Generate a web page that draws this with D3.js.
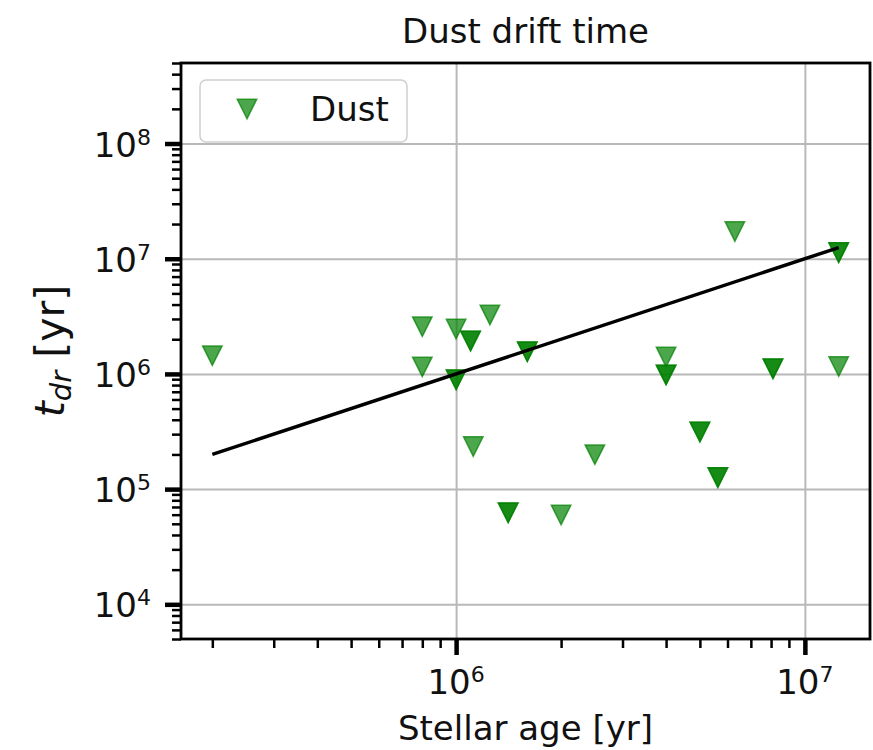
<!DOCTYPE html>
<html>
<head>
<meta charset="utf-8">
<script src="https://cdn.jsdelivr.net/npm/d3@7"></script>
<style>
  body { margin: 0; background: #fff; }
  svg { display: block; }
  text { font-family: "DejaVu Sans", sans-serif; fill: #111; }
</style>
</head>
<body>
<svg id="chart" width="873" height="750"></svg>
<script>
// Stellar age [yr] and dust drift time [yr] for each disc (repeated entries overlap)
const stellarAge = [2.0e5, 8.0e5, 8.0e5, 1.0e6, 1.1e6, 1.1e6, 1.0e6, 1.0e6, 1.12e6, 1.25e6,
                    1.41e6, 1.41e6, 1.6e6, 1.6e6, 2.0e6, 2.5e6, 4.0e6, 4.0e6, 4.0e6, 5.0e6,
                    5.0e6, 5.63e6, 5.63e6, 6.3e6, 8.1e6, 8.1e6, 1.25e7, 1.25e7, 1.25e7];
const driftTime  = [1.44e6, 2.57e6, 1.15e6, 2.45e6, 1.93e6, 1.93e6, 8.9e5, 8.9e5, 2.34e5, 3.25e6,
                    6.24e4, 6.24e4, 1.56e6, 1.56e6, 5.96e4, 1.99e5, 1.40e6, 9.8e5, 9.8e5, 3.13e5,
                    3.13e5, 1.26e5, 1.26e5, 1.72e7, 1.11e6, 1.11e6, 1.13e7, 1.13e7, 1.16e6];

// One-to-one reference line t_dr = age
const fitAge  = [2.0e5, 1.25e7];
const fitTime = [2.0e5, 1.25e7];

const yLimits     = [5e3, 5e8];
const xMajorTicks = [1e6, 1e7];
const yMajorTicks = [1e4, 1e5, 1e6, 1e7, 1e8];
const chartTitle  = "Dust drift time";
const xLabel      = "Stellar age [yr]";
const legendLabel = "Dust";

const svg = d3.select("#chart");
const plot = { left: 181, right: 870, top: 63, bottom: 639 };

// Log x range with a 5% margin (in log space) around the data
const lo = Math.log10(d3.min(stellarAge)), hi = Math.log10(d3.max(stellarAge));
const pad = 0.05 * (hi - lo);
const x = d3.scaleLog().domain([10 ** (lo - pad), 10 ** (hi + pad)]).range([plot.left, plot.right]);
const y = d3.scaleLog().domain(yLimits).range([plot.bottom, plot.top]);

function minorTicks(scale) {
  const [a, b] = scale.domain();
  const out = [];
  for (let d = Math.floor(Math.log10(a)); d <= Math.ceil(Math.log10(b)); d++) {
    for (let k = 2; k <= 9; k++) {
      const v = k * 10 ** d;
      if (v >= a * 0.9999 && v <= b * 1.0001) out.push(v);
    }
  }
  return out;
}

// Grid lines at major ticks
const gridX = svg.append("g").attr("transform", `translate(0,${plot.bottom})`)
  .call(d3.axisBottom(x).tickValues(xMajorTicks).tickSize(-(plot.bottom - plot.top)).tickFormat(""));
const gridY = svg.append("g").attr("transform", `translate(${plot.left},0)`)
  .call(d3.axisLeft(y).tickValues(yMajorTicks).tickSize(-(plot.right - plot.left)).tickFormat(""));
[gridX, gridY].forEach(g => {
  g.select(".domain").remove();
  g.selectAll("line").attr("stroke", "#b8b8b8").attr("stroke-width", 2);
});

// Markers: downward triangles
const ms = 19.5;
const tri = (() => {
  const p = d3.path();
  p.moveTo(0, ms / 2); p.lineTo(-ms / 2, -ms / 2); p.lineTo(ms / 2, -ms / 2); p.closePath();
  return p.toString();
})();

svg.append("g").selectAll("path")
  .data(d3.zip(stellarAge, driftTime))
  .join("path")
  .attr("d", tri)
  .attr("transform", d => `translate(${x(d[0])},${y(d[1])})`)
  .attr("fill", "green").attr("fill-opacity", 0.7)
  .attr("stroke", "green").attr("stroke-opacity", 0.7).attr("stroke-width", 1.5);

// Reference line
svg.append("path")
  .datum(d3.zip(fitAge, fitTime))
  .attr("d", d3.line().x(d => x(d[0])).y(d => y(d[1])))
  .attr("fill", "none").attr("stroke", "#000").attr("stroke-width", 3.5);

// Spines
svg.append("rect")
  .attr("x", plot.left).attr("y", plot.top)
  .attr("width", plot.right - plot.left).attr("height", plot.bottom - plot.top)
  .attr("fill", "none").attr("stroke", "#000").attr("stroke-width", 2.8);

// Tick marks
function styleTicks(g, w) {
  g.select(".domain").remove();
  g.selectAll("line").attr("stroke", "#000").attr("stroke-width", w);
  g.selectAll("text").remove();
}
styleTicks(svg.append("g").attr("transform", `translate(0,${plot.bottom})`)
  .call(d3.axisBottom(x).tickValues(minorTicks(x)).tickSize(9)), 2.5);
styleTicks(svg.append("g").attr("transform", `translate(0,${plot.bottom})`)
  .call(d3.axisBottom(x).tickValues(xMajorTicks).tickSize(16)), 4.5);
styleTicks(svg.append("g").attr("transform", `translate(${plot.left},0)`)
  .call(d3.axisLeft(y).tickValues(minorTicks(y)).tickSize(9)), 2.5);
styleTicks(svg.append("g").attr("transform", `translate(${plot.left},0)`)
  .call(d3.axisLeft(y).tickValues(yMajorTicks).tickSize(16)), 4.5);

// Power-of-ten tick labels
function powerLabel(sel, v) {
  const e = Math.round(Math.log10(v));
  sel.append("tspan").text("10");
  sel.append("tspan").attr("dy", -12).attr("font-size", 22).text(e);
}
xMajorTicks.forEach(v => {
  svg.append("text").attr("x", x(v)).attr("y", 694)
    .attr("text-anchor", "middle").attr("font-size", 34)
    .call(powerLabel, v);
});
yMajorTicks.forEach(v => {
  svg.append("text").attr("x", 151).attr("y", y(v) + 13)
    .attr("text-anchor", "end").attr("font-size", 34)
    .call(powerLabel, v);
});

// Titles
svg.append("text").attr("x", (plot.left + plot.right) / 2).attr("y", 43)
  .attr("text-anchor", "middle").attr("font-size", 34).text(chartTitle);
svg.append("text").attr("x", (plot.left + plot.right) / 2).attr("y", 740)
  .attr("text-anchor", "middle").attr("font-size", 34).text(xLabel);

const yl = svg.append("text")
  .attr("transform", `translate(64,${(plot.top + plot.bottom) / 2}) rotate(-90)`)
  .attr("text-anchor", "middle").attr("font-size", 41);
yl.append("tspan").attr("font-style", "italic").text("t");
yl.append("tspan").attr("font-style", "italic").attr("font-size", 29).attr("dy", 7).text("dr");
yl.append("tspan").attr("dy", -7).text(" [yr]");

// Legend
const lg = svg.append("g");
lg.append("rect").attr("x", 200).attr("y", 80).attr("width", 207).attr("height", 62)
  .attr("rx", 6).attr("fill", "#fff").attr("fill-opacity", 0.8)
  .attr("stroke", "#cfcfcf").attr("stroke-width", 1.5);
lg.append("path").attr("d", tri).attr("transform", "translate(247,109)")
  .attr("fill", "green").attr("fill-opacity", 0.7)
  .attr("stroke", "green").attr("stroke-opacity", 0.7).attr("stroke-width", 1.5);
lg.append("text").attr("x", 310).attr("y", 121).attr("font-size", 34).text(legendLabel);
</script>
</body>
</html>
